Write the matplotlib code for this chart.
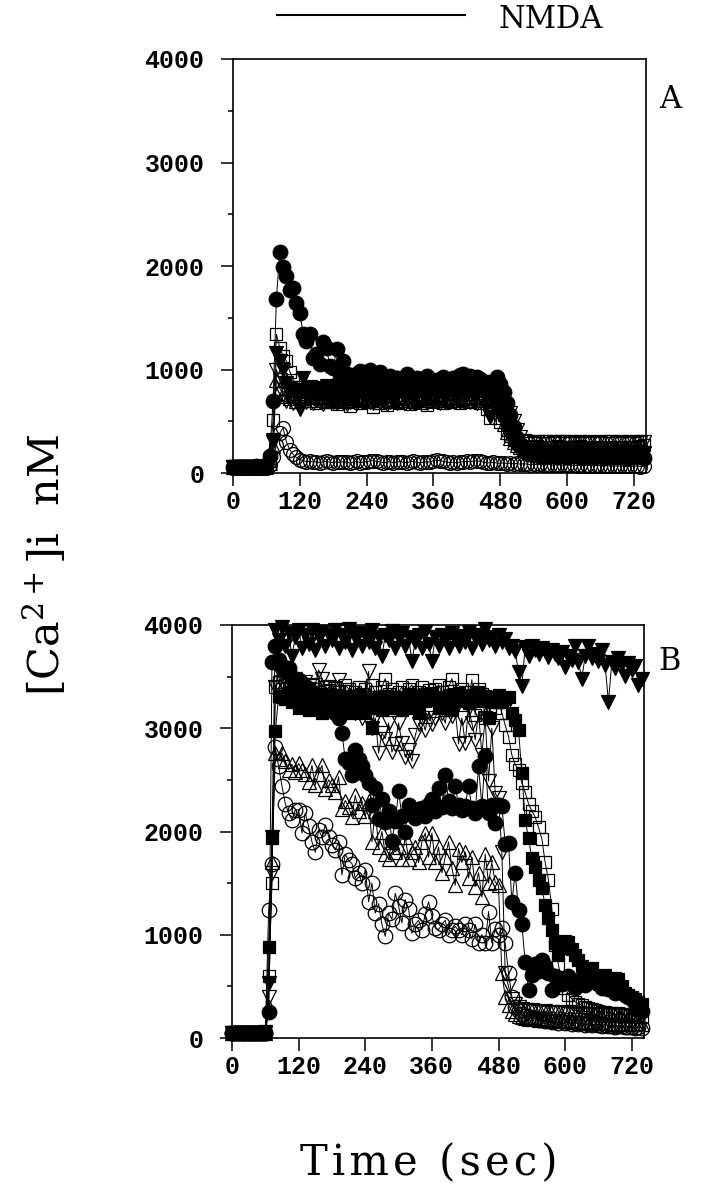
import matplotlib.pyplot as plt
from matplotlib.lines import Line2D

plt.rcParams['mathtext.fontset'] = 'dejavuserif'

# sample times (sec), one reading every 6 s
time_s = [
    0, 6, 12, 18, 24, 30, 36, 42, 48, 54,
    60, 66, 72, 78, 84, 90, 96, 102, 108, 114,
    120, 126, 132, 138, 144, 150, 156, 162, 168, 174,
    180, 186, 192, 198, 204, 210, 216, 222, 228, 234,
    240, 246, 252, 258, 264, 270, 276, 282, 288, 294,
    300, 306, 312, 318, 324, 330, 336, 342, 348, 354,
    360, 366, 372, 378, 384, 390, 396, 402, 408, 414,
    420, 426, 432, 438, 444, 450, 456, 462, 468, 474,
    480, 486, 492, 498, 504, 510, 516, 522, 528, 534,
    540, 546, 552, 558, 564, 570, 576, 582, 588, 594,
    600, 606, 612, 618, 624, 630, 636, 642, 648, 654,
    660, 666, 672, 678, 684, 690, 696, 702, 708, 714,
    720, 726, 732, 738,
]

# ---------------- Panel A  ([Ca2+]i, nM) ----------------
a_open_circle = [
    50, 52, 48, 51, 50, 49, 52, 50, 48, 51,
    52, 80, 150, 270, 386, 435, 300, 225, 180, 150,
    130, 120, 110, 115, 105, 110, 100, 108, 112, 104,
    100, 108, 102, 110, 104, 98, 106, 112, 100, 105,
    110, 115, 120, 112, 108, 100, 104, 110, 98, 106,
    110, 104, 100, 108, 112, 102, 98, 106, 110, 104,
    120, 125, 118, 112, 108, 100, 104, 98, 106, 110,
    112, 108, 115, 120, 112, 105, 100, 98, 104, 96,
    92, 100, 90, 95, 88, 92, 85, 90, 86, 82,
    85, 80, 84, 78, 82, 80, 76, 80, 78, 75,
    78, 74, 76, 72, 75, 70, 74, 72, 70, 73,
    70, 68, 72, 66, 70, 68, 65, 70, 66, 68,
    65, 68, 62, 65,
]
a_open_up = [
    55, 58, 56, 60, 57, 59, 56, 58, 60, 57,
    59, 100, 260, 900, 820, 760, 740, 720, 750, 700,
    730, 720, 740, 710, 760, 730, 720, 740, 700, 730,
    740, 720, 700, 730, 750, 720, 710, 740, 730, 720,
    730, 710, 740, 720, 730, 750, 720, 700, 740, 730,
    720, 740, 730, 710, 720, 740, 730, 720, 710, 740,
    730, 720, 740, 730, 710, 720, 740, 730, 720, 740,
    730, 720, 740, 760, 730, 780, 720, 700, 650, 600,
    540, 470, 400, 340, 300, 270, 250, 240, 235, 230,
    230, 240, 225, 235, 230, 220, 235, 240, 225, 230,
    225, 235, 230, 220, 235, 225, 230, 220, 225, 230,
    220, 230, 225, 215, 230, 220, 225, 230, 220, 225,
    220, 230, 225, 220,
]
a_open_down = [
    60, 57, 61, 59, 62, 58, 60, 61, 57, 60,
    61, 110, 300, 1000, 900, 760, 700, 720, 680, 700,
    660, 700, 690, 720, 680, 710, 690, 670, 700, 710,
    690, 680, 700, 710, 670, 690, 700, 680, 710, 690,
    700, 690, 680, 710, 690, 700, 670, 690, 710, 680,
    690, 700, 710, 680, 690, 700, 690, 710, 680, 700,
    700, 690, 680, 710, 700, 690, 700, 720, 690, 700,
    710, 690, 700, 680, 700, 710, 690, 700, 680, 700,
    690, 670, 640, 580, 500, 420, 350, 310, 300, 280,
    290, 300, 280, 295, 285, 300, 290, 280, 295, 300,
    285, 290, 300, 280, 295, 290, 285, 300, 290, 280,
    290, 295, 285, 300, 280, 290, 295, 285, 290, 300,
    285, 295, 290, 300,
]
a_open_square = [
    55, 60, 58, 62, 57, 60, 59, 61, 58, 60,
    62, 120, 510, 1340, 1210, 1130, 1080, 980, 900, 830,
    780, 720, 760, 700, 740, 680, 720, 700, 760, 690,
    710, 670, 700, 740, 690, 650, 700, 720, 680, 710,
    690, 720, 640, 700, 680, 730, 660, 700, 710, 690,
    680, 700, 720, 670, 690, 710, 680, 700, 660, 720,
    690, 700, 740, 680, 710, 690, 720, 700, 680, 710,
    700, 690, 720, 730, 680, 700, 620, 530, 710, 660,
    490, 560, 420, 360, 320, 290, 270, 260, 250, 255,
    250, 260, 245, 255, 250, 240, 255, 260, 245, 250,
    240, 255, 250, 245, 260, 240, 250, 235, 245, 250,
    240, 250, 245, 235, 250, 240, 245, 255, 240, 250,
    245, 255, 260, 270,
]
a_filled_down = [
    58, 60, 57, 61, 59, 60, 62, 58, 60, 59,
    63, 130, 320, 1160, 1080, 1000, 870, 820, 790, 800,
    620, 920, 780, 830, 800, 770, 820, 790, 840, 780,
    800, 820, 770, 810, 790, 830, 780, 800, 820, 770,
    810, 790, 800, 830, 770, 810, 800, 780, 820, 790,
    800, 810, 770, 820, 790, 800, 830, 780, 810, 790,
    820, 780, 800, 810, 790, 830, 800, 770, 810, 800,
    790, 820, 800, 780, 810, 790, 760, 545, 700, 640,
    560, 480, 400, 340, 290, 250, 230, 215, 210, 205,
    200, 210, 195, 205, 200, 190, 210, 200, 195, 205,
    200, 195, 210, 190, 200, 205, 195, 200, 190, 200,
    195, 205, 190, 200, 195, 185, 200, 195, 190, 200,
    195, 190, 200, 195,
]
a_filled_circle = [
    60, 58, 62, 60, 57, 61, 59, 63, 60, 58,
    65, 160, 700, 1680, 2140, 1990, 1900, 1770, 1790, 1640,
    1550, 1345, 1280, 1345, 1110, 1150, 1050, 1265, 1210, 1035,
    1010, 1195, 905, 1085, 960, 880, 950, 910, 990, 870,
    960, 1000, 930, 880, 980, 900, 830, 940, 870, 920,
    850, 900, 960, 830, 880, 920, 860, 900, 940, 870,
    830, 900, 880, 930, 850, 890, 920, 870, 950, 960,
    900, 940, 870, 930, 910, 860, 880, 820, 780, 930,
    860, 780, 680, 560, 440, 340, 270, 220, 195, 180,
    170, 175, 160, 150, 170, 165, 180, 155, 160, 170,
    150, 165, 175, 160, 150, 170, 155, 165, 150, 160,
    170, 145, 160, 155, 170, 150, 165, 160, 140, 155,
    165, 150, 160, 145,
]

# ---------------- Panel B ----------------
b_open_circle = [
    50, 48, 51, 49, 52, 50, 48, 50, 51, 49,
    52, 1240, 1690, 2820, 2630, 2440, 2270, 2180, 2110, 2210,
    2210, 1985, 2180, 2050, 1900, 1800, 2015, 1950, 2065, 1950,
    1870, 1820, 1900, 1580, 1780, 1720, 1690, 1550, 1600, 1500,
    1630, 1320, 1500, 1210, 1300, 1100, 985, 1210, 1150, 1400,
    1280, 1115, 1340, 1250, 1015, 1100, 1140, 1050, 1200, 1320,
    1180, 1065, 1050, 1100, 1140, 1000, 1050, 1080, 1045, 1000,
    1100, 1050, 960, 1100, 920, 1000, 920, 1225, 920, 1060,
    1000, 1065, 920, 630, 400, 300, 260, 230, 210, 200,
    190, 185, 170, 180, 160, 170, 155, 165, 150, 160,
    145, 155, 140, 150, 135, 145, 130, 140, 125, 135,
    130, 120, 125, 115, 120, 110, 115, 120, 105, 110,
    110, 100, 105, 100,
]
b_open_up = [
    48, 50, 52, 49, 50, 51, 48, 50, 52, 49,
    50, 300, 1700, 2760, 2700, 2760, 2680, 2600, 2650, 2580,
    2660, 2600, 2560, 2480, 2640, 2450, 2560, 2640, 2415, 2500,
    2450, 2380, 2530, 2220, 2300, 2240, 2140, 2350, 2200, 2280,
    2150, 2300, 1900, 2200, 1850, 2000, 1780, 1735, 1900, 1800,
    1850, 1735, 1950, 1730, 1800, 1850, 1700, 1900, 1985, 1750,
    1985, 1700, 1850, 1600, 1750, 1900, 1650, 1480, 1835, 1700,
    1800, 1550, 1750, 1465, 1600, 1365, 1780, 1500, 1700, 1510,
    1480, 630, 400, 320, 260, 230, 210, 200, 190, 180,
    200, 190, 175, 185, 170, 180, 165, 175, 160, 170,
    165, 160, 170, 155, 165, 150, 160, 155, 150, 160,
    150, 155, 145, 150, 140, 150, 145, 140, 150, 145,
    140, 145, 135, 140,
]
b_open_down = [
    50, 49, 52, 50, 48, 51, 50, 52, 49, 50,
    52, 400, 1600, 3400, 3550, 3450, 3500, 3380, 3420, 3480,
    3400, 3350, 3450, 3380, 3300, 3420, 3565, 3480, 3350, 3400,
    3300, 3380, 3465, 3250, 3350, 3200, 3300, 3150, 3250, 3100,
    3175, 3550, 3000, 3100, 2760, 2950, 2900, 3050, 2770, 2850,
    3050, 2860, 2720, 2790, 2680, 2930, 3040, 3100, 2980, 3150,
    3040, 3100, 3200, 3150, 3050, 3250, 3120, 3180, 2850, 3100,
    2855, 3200, 3050, 2890, 3150, 2745, 3100, 2490, 3000, 2370,
    2320, 1800, 630, 500, 380, 330, 300, 280, 270, 265,
    270, 260, 255, 250, 260, 245, 250, 240, 245, 250,
    240, 235, 245, 230, 240, 235, 225, 230, 235, 225,
    230, 220, 225, 215, 220, 225, 210, 215, 220, 210,
    215, 205, 210, 200,
]
b_open_square = [
    52, 50, 49, 51, 53, 50, 48, 51, 50, 52,
    50, 600, 1500, 3400, 3450, 3380, 3420, 3350, 3300, 3400,
    3450, 3350, 3400, 3300, 3420, 3380, 3350, 3300, 3400, 3370,
    3320, 3400, 3350, 3280, 3420, 3380, 3300, 3350, 3400, 3330,
    3380, 3300, 3420, 3350, 3280, 3400, 3480, 3330, 3380, 3300,
    3350, 3400, 3300, 3380, 3420, 3280, 3350, 3400, 3330, 3370,
    3300, 3380, 3420, 3350, 3300, 3400, 3480, 3330, 3280, 3380,
    3350, 3300, 3470, 3130, 3380, 3330, 3100, 3300, 3250, 3200,
    3250, 3150, 3030, 2920, 2740, 2650, 2600, 2470, 2380, 2270,
    2200, 2140, 2040, 1930, 1700, 1530, 1250, 900, 705, 560,
    480, 420, 380, 350, 330, 320, 300, 290, 280, 270,
    260, 250, 255, 240, 245, 230, 240, 225, 230, 220,
    215, 220, 210, 205,
]
b_filled_square = [
    48, 50, 52, 49, 51, 50, 48, 52, 50, 49,
    51, 885, 1940, 2970, 3310, 3300, 3280, 3350, 3250, 3320,
    3200, 3300, 3260, 3180, 3340, 3240, 3290, 3150, 3300, 3220,
    3280, 3180, 3320, 3250, 3200, 3300, 3150, 3270, 3320, 3230,
    3150, 3280, 3000, 3200, 3290, 3180, 3310, 3250, 3200, 3300,
    3240, 3180, 3300, 3330, 3200, 3280, 3150, 3320, 3260, 3300,
    3340, 3280, 3200, 3300, 3250, 3320, 3180, 3280, 3340, 3260,
    3300, 3240, 3320, 3280, 3350, 3260, 3310, 3100, 3250, 3300,
    3320, 3250, 3280, 3300, 3150, 3080, 2985, 2565, 2110, 1935,
    1740, 1660, 1530, 1450, 1290, 1160, 1050, 920, 805, 870,
    935, 925, 860, 805, 760, 700, 645, 620, 680, 600,
    590, 565, 610, 540, 520, 580, 570, 500, 440, 420,
    400, 380, 350, 330,
]
b_filled_circle = [
    50, 52, 48, 50, 51, 49, 52, 50, 48, 51,
    53, 255, 3645, 3800, 3660, 3600, 3550, 3580, 3500, 3480,
    3470, 3440, 3400, 3380, 3350, 3300, 3280, 3320, 3260, 3310,
    3250, 3150, 3100, 2950, 2700, 2660, 2550, 2790, 2700, 2630,
    2550, 2470, 2260, 2420, 2120, 2310, 2090, 2200, 1910, 2100,
    2390, 2150, 2000, 2260, 2180, 2130, 2220, 2230, 2150, 2270,
    2310, 2200, 2420, 2240, 2550, 2300, 2230, 2440, 2260, 2210,
    2250, 2440, 2230, 2180, 2630, 2250, 2730, 2180, 2260, 2080,
    2260, 2250, 1880, 1885, 1320, 1600, 1240, 1105, 735, 465,
    610, 720, 650, 755, 700, 630, 465, 600, 560, 520,
    560, 600, 520, 480, 540, 580, 510, 610, 560, 540,
    520, 480, 500, 470, 520, 440, 480, 460, 420, 400,
    375, 340, 300, 260,
]
b_filled_down = [
    50, 48, 52, 50, 49, 51, 50, 48, 52, 50,
    55, 530, 1950, 3950, 3850, 3980, 3800, 3920, 3700, 3880,
    3950, 3780, 3900, 3820, 3950, 3760, 3880, 3930, 3800, 3900,
    3850, 3950, 3780, 3900, 3840, 3960, 3760, 3880, 3920, 3800,
    3900, 3840, 3950, 3780, 3880, 3700, 3900, 3850, 3940, 3780,
    3870, 3920, 3800, 3880, 3650, 3840, 3900, 3780, 3930, 3820,
    3650, 3880, 3800, 3900, 3850, 3780, 3920, 3860, 3800, 3890,
    3840, 3930, 3780, 3880, 3900, 3820, 3960, 3850, 3880, 3800,
    3900, 3840, 3860, 3780, 3800, 3750, 3540, 3410, 3790, 3700,
    3800, 3760, 3720, 3780, 3750, 3690, 3760, 3720, 3680, 3740,
    3590, 3700, 3660, 3800, 3640, 3480, 3700, 3800, 3680, 3720,
    3650, 3760, 3610, 3255, 3640, 3580, 3680, 3620, 3510, 3630,
    3560, 3600, 3420, 3480,
]

# draw order: open markers first, filled on top
panel_a = [
    (a_open_circle, 'o', False, 10.0),
    (a_open_up, '^', False, 10.5),
    (a_open_down, 'v', False, 10.5),
    (a_open_square, 's', False, 8.0),
    (a_filled_down, 'v', True, 10.5),
    (a_filled_circle, 'o', True, 10.5),
]
panel_b = [
    (b_open_circle, 'o', False, 10.5),
    (b_open_up, '^', False, 10.5),
    (b_open_down, 'v', False, 10.5),
    (b_open_square, 's', False, 8.0),
    (b_filled_square, 's', True, 8.0),
    (b_filled_circle, 'o', True, 10.5),
    (b_filled_down, 'v', True, 10.5),
]

fig = plt.figure(figsize=(7.07, 11.99), dpi=100)
ax_a = fig.add_axes([233 / 707, 1 - 473 / 1199, 413 / 707, 414 / 1199])
ax_b = fig.add_axes([232 / 707, 1 - 1038 / 1199, 412 / 707, 413 / 1199])

for ax, series in ((ax_a, panel_a), (ax_b, panel_b)):
    for vals, mk, filled, ms in series:
        ax.plot(time_s, vals, color='black', lw=0.7, marker=mk, ms=ms,
                mfc='black' if filled else 'none', mec='black', mew=0.9,
                clip_on=False)
    ax.set_xlim(0, 742)
    ax.set_ylim(0, 4000)
    ax.set_xticks([0, 120, 240, 360, 480, 600, 720])
    ax.set_yticks([0, 1000, 2000, 3000, 4000])
    ax.set_yticks([500, 1500, 2500, 3500], minor=True)
    ax.tick_params(axis='y', which='major', direction='out', length=8.5, width=1.1, pad=12)
    ax.tick_params(axis='y', which='minor', direction='out', length=3.5, width=1.1)
    ax.tick_params(axis='x', which='major', direction='out', length=9.5, width=1.1, pad=3)
    for lab in ax.get_xticklabels() + ax.get_yticklabels():
        lab.set_fontfamily('Liberation Mono')
        lab.set_fontweight('bold')
        lab.set_fontsize(18)
    for sp in ax.spines.values():
        sp.set_linewidth(1.2)

# NMDA application bar
fig.add_artist(Line2D([277 / 707, 465 / 707], [1 - 15 / 1199, 1 - 15 / 1199],
                      color='black', lw=1.5))
fig.text(551 / 707, 1 - 19 / 1199, 'NMDA', family='DejaVu Serif', fontsize=22,
         ha='center', va='center')

fig.text(670 / 707, 1 - 100 / 1199, 'A', family='DejaVu Serif', fontsize=22,
         ha='center', va='center')
fig.text(670 / 707, 1 - 662 / 1199, 'B', family='DejaVu Serif', fontsize=22,
         ha='center', va='center')

fig.text(45 / 707, 1 - 565 / 1199, r'[Ca$^{2+}$]i  nM', family='DejaVu Serif',
         fontsize=31, rotation=90, ha='center', va='center')
fig.text(429 / 707, 1 - 1163 / 1199, '\u200a'.join('Time (sec)'), family='DejaVu Serif',
         fontsize=30, ha='center', va='center')

fig.savefig('out.png', dpi=100)
